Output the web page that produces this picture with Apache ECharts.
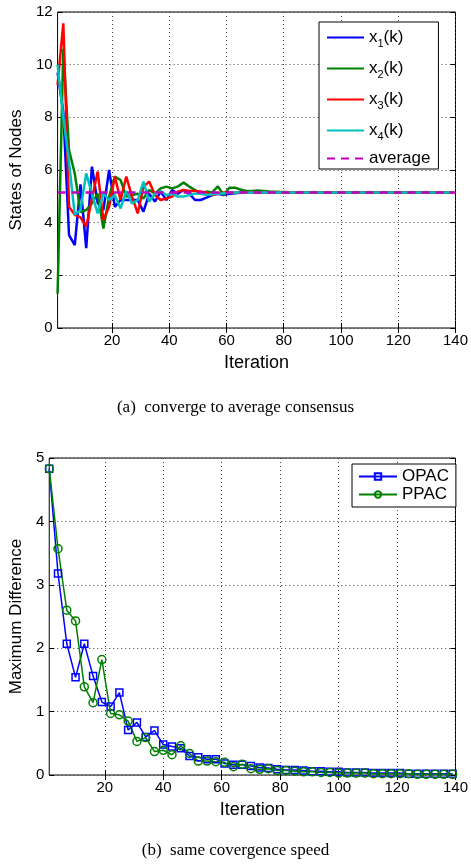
<!DOCTYPE html>
<html>
<head>
<meta charset="utf-8">
<script src="https://cdn.jsdelivr.net/npm/echarts@6/dist/echarts.min.js"></script>
<style>
  html, body { margin: 0; padding: 0; background: #fff; }
  #chart { width: 471px; height: 865px; }
</style>
</head>
<body>
<div id="chart"></div>
<script>
// (a) states of nodes, sampled every 2 iterations
const kTop = [1, 3, 5, 7, 9, 11, 13, 15, 17, 19, 21, 23, 25, 27, 29, 31, 33, 35, 37, 39,
  41, 43, 45, 47, 49, 51, 53, 55, 57, 59, 61, 63, 65, 67, 69, 71, 73, 75, 77, 79,
  81, 83, 85, 87, 89, 91, 93, 95, 97, 99, 101, 103, 105, 107, 109, 111, 113, 115, 117, 119,
  121, 123, 125, 127, 129, 131, 133, 135, 137, 139];
const x1 = [9.7, 8.2, 3.53, 3.15, 5.45, 3.03, 6.13, 4.75, 4.48, 6.0, 4.6, 4.86, 4.86, 4.86, 4.86, 4.42, 5.1, 4.8, 5.18, 4.86,
  5.24, 5.1, 5.24, 5.1, 4.86, 4.86, 4.95, 5.05, 5.1, 5.05, 5.1, 5.12, 5.14, 5.15, 5.15, 5.14, 5.15, 5.15, 5.15, 5.15,
  5.15, 5.15, 5.15, 5.15, 5.15, 5.15, 5.15, 5.15, 5.15, 5.15, 5.15, 5.15, 5.15, 5.15, 5.15, 5.15, 5.15, 5.15, 5.15, 5.15,
  5.15, 5.15, 5.15, 5.15, 5.15, 5.15, 5.15, 5.15, 5.15, 5.15];
const x2 = [1.3, 10.6, 6.76, 5.87, 4.4, 4.48, 4.73, 5.1, 3.78, 4.99, 5.75, 5.62, 4.99, 5.05, 5.1, 4.92, 5.24, 5.1, 5.3, 5.37,
  5.3, 5.37, 5.52, 5.37, 5.24, 5.1, 5.18, 5.15, 5.38, 5.05, 5.33, 5.33, 5.25, 5.2, 5.2, 5.22, 5.2, 5.18, 5.17, 5.16,
  5.16, 5.15, 5.15, 5.15, 5.15, 5.15, 5.15, 5.15, 5.15, 5.15, 5.15, 5.15, 5.15, 5.15, 5.15, 5.15, 5.15, 5.15, 5.15, 5.15,
  5.15, 5.15, 5.15, 5.15, 5.15, 5.15, 5.15, 5.15, 5.15, 5.15];
const x3 = [9.23, 11.57, 4.6, 4.3, 4.2, 3.85, 4.9, 5.94, 4.1, 4.6, 5.75, 4.86, 5.75, 4.99, 4.35, 5.37, 5.56, 5.05, 4.86, 4.92,
  4.99, 5.18, 5.24, 5.2, 5.2, 5.18, 5.15, 5.05, 5.1, 5.15, 5.15, 5.14, 5.15, 5.15, 5.15, 5.15, 5.15, 5.15, 5.15, 5.15,
  5.15, 5.15, 5.15, 5.15, 5.15, 5.15, 5.15, 5.15, 5.15, 5.15, 5.15, 5.15, 5.15, 5.15, 5.15, 5.15, 5.15, 5.15, 5.15, 5.15,
  5.15, 5.15, 5.15, 5.15, 5.15, 5.15, 5.15, 5.15, 5.15, 5.15];
const x4 = [10.0, 8.0, 6.3, 4.3, 4.48, 5.87, 5.1, 4.35, 5.1, 4.86, 5.05, 4.54, 5.2, 4.73, 4.86, 5.56, 4.8, 5.1, 5.2, 5.05,
  5.1, 4.99, 4.99, 5.05, 5.1, 5.1, 5.05, 5.08, 5.1, 5.12, 5.14, 5.15, 5.15, 5.14, 5.15, 5.15, 5.15, 5.15, 5.15, 5.15,
  5.15, 5.15, 5.15, 5.15, 5.15, 5.15, 5.15, 5.15, 5.15, 5.15, 5.15, 5.15, 5.15, 5.15, 5.15, 5.15, 5.15, 5.15, 5.15, 5.15,
  5.15, 5.15, 5.15, 5.15, 5.15, 5.15, 5.15, 5.15, 5.15, 5.15];
const avgK = [1, 140];
const avgVal = [5.15, 5.15];

// (b) maximum difference, sampled every 3 iterations
const kBot = [1, 4, 7, 10, 13, 16, 19, 22, 25, 28, 31, 34, 37, 40, 43, 46, 49, 52, 55, 58,
  61, 64, 67, 70, 73, 76, 79, 82, 85, 88, 91, 94, 97, 100, 103, 106, 109, 112, 115, 118,
  121, 124, 127, 130, 133, 136, 139];
const opac = [4.83, 3.18, 2.07, 1.54, 2.07, 1.56, 1.15, 1.08, 1.30, 0.71, 0.83, 0.60, 0.70, 0.48, 0.45, 0.42, 0.30, 0.28, 0.25, 0.25,
  0.18, 0.16, 0.16, 0.14, 0.12, 0.11, 0.09, 0.08, 0.08, 0.07, 0.06, 0.06, 0.05, 0.05, 0.04, 0.04, 0.04, 0.03, 0.03, 0.03,
  0.03, 0.02, 0.02, 0.02, 0.02, 0.02, 0.02];
const ppac = [4.83, 3.57, 2.60, 2.43, 1.39, 1.14, 1.82, 0.97, 0.95, 0.85, 0.53, 0.59, 0.37, 0.39, 0.32, 0.46, 0.34, 0.22, 0.22, 0.21,
  0.20, 0.13, 0.17, 0.10, 0.09, 0.10, 0.07, 0.07, 0.06, 0.05, 0.05, 0.04, 0.04, 0.03, 0.03, 0.03, 0.03, 0.02, 0.02, 0.02,
  0.02, 0.02, 0.01, 0.01, 0.01, 0.01, 0.01];

const xTicks = [20, 40, 60, 80, 100, 120, 140];

const font = 'Liberation Sans, Arial, sans-serif';
const zip = (xs, ys) => xs.map((x, i) => [x, ys[i]]);

function xAxisFor(grid, name) {
  return [{
    type: 'value', gridIndex: grid, min: 1, max: 140,
    name: name, nameLocation: 'middle', nameGap: 26,
    nameTextStyle: { fontFamily: font, fontSize: 18, color: '#000' },
    axisLine: { show: false },
    axisTick: { inside: true, length: 5, customValues: xTicks, lineStyle: { color: '#000' } },
    axisLabel: { customValues: xTicks, fontFamily: font, fontSize: 15, color: '#000', margin: 5 },
    splitLine: { show: true, customValues: xTicks, lineStyle: { color: '#444', type: [1, 3], width: 1 } }
  }, {
    type: 'value', gridIndex: grid, min: 1, max: 140, position: 'top',
    axisLine: { show: false },
    axisTick: { inside: true, length: 5, customValues: xTicks, lineStyle: { color: '#000' } },
    axisLabel: { show: false },
    splitLine: { show: false }
  }];
}

function yAxisFor(grid, name, max, step) {
  return [{
    type: 'value', gridIndex: grid, min: 0, max: max, interval: step,
    name: name, nameLocation: 'middle', nameGap: 24,
    nameTextStyle: { fontFamily: font, fontSize: 17, color: '#000' },
    axisLine: { show: false },
    axisTick: { inside: true, length: 5, lineStyle: { color: '#000' } },
    axisLabel: { fontFamily: font, fontSize: 15, color: '#000', margin: 5 },
    splitLine: { show: true, lineStyle: { color: '#444', type: [1, 3], width: 1 } }
  }, {
    type: 'value', gridIndex: grid, min: 0, max: max, interval: step, position: 'right',
    axisLine: { show: false },
    axisTick: { inside: true, length: 5, lineStyle: { color: '#000' } },
    axisLabel: { show: false },
    splitLine: { show: false }
  }];
}

const chart = echarts.init(document.getElementById('chart'), null, { renderer: 'canvas' });

const lineCommon = { type: 'line', showSymbol: false, symbol: 'none', animation: false, xAxisIndex: 0, yAxisIndex: 0 };

chart.setOption({
  backgroundColor: '#fff',
  animation: false,
  title: [
    { text: '(a)  converge to average consensus', left: 'center', top: 394,
      textStyle: { fontFamily: 'Liberation Serif, Times New Roman, serif', fontSize: 17, fontWeight: 'normal', color: '#000' } },
    { text: '(b)  same covergence speed', left: 'center', top: 837,
      textStyle: { fontFamily: 'Liberation Serif, Times New Roman, serif', fontSize: 17, fontWeight: 'normal', color: '#000' } }
  ],
  grid: [
    { left: 48, right: 15, top: 12, height: 316, show: true, borderColor: '#000', borderWidth: 1, backgroundColor: 'transparent' },
    { left: 48, right: 15, top: 458, height: 317, show: true, borderColor: '#000', borderWidth: 1, backgroundColor: 'transparent' }
  ],
  xAxis: [...xAxisFor(0, 'Iteration'), ...xAxisFor(1, 'Iteration')],
  yAxis: [...yAxisFor(0, 'States of Nodes', 12, 2), ...yAxisFor(1, 'Maximum Difference', 5, 1)],
  legend: [{
    data: ['x1(k)', 'x2(k)', 'x3(k)', 'x4(k)', 'average'],
    orient: 'vertical', left: 319, top: 22,
    backgroundColor: '#fff', borderColor: '#000', borderWidth: 1,
    padding: [4, 8, 2, 7], itemWidth: 37, itemHeight: 14, itemGap: 8,
    itemStyle: { opacity: 0 },
    formatter: n => n === 'average' ? '{t|average}' : '{t|x}{s|' + n.charAt(1) + '}{t|(k)}',
    textStyle: {
      fontFamily: font, fontSize: 17, color: '#000',
      rich: {
        t: { fontFamily: font, fontSize: 17, color: '#000', lineHeight: 20, verticalAlign: 'middle' },
        s: { fontFamily: font, fontSize: 11, color: '#000', lineHeight: 20, padding: [12, 0, 0, 0] }
      }
    }
  }, {
    data: ['OPAC', 'PPAC'],
    orient: 'vertical', left: 352, top: 464,
    backgroundColor: '#fff', borderColor: '#000', borderWidth: 1,
    padding: [4, 7, 4, 6], itemWidth: 38, itemHeight: 8, itemGap: 1,
    textStyle: { fontFamily: font, fontSize: 17, color: '#000' }
  }],
  series: [
    { ...lineCommon, name: 'x1(k)', data: zip(kTop, x1), lineStyle: { color: '#0000ff', width: 2.5 }, itemStyle: { color: '#0000ff' } },
    { ...lineCommon, name: 'x2(k)', data: zip(kTop, x2), lineStyle: { color: '#008000', width: 2.5 }, itemStyle: { color: '#008000' } },
    { ...lineCommon, name: 'x3(k)', data: zip(kTop, x3), lineStyle: { color: '#ff0000', width: 2.5 }, itemStyle: { color: '#ff0000' } },
    { ...lineCommon, name: 'x4(k)', data: zip(kTop, x4), lineStyle: { color: '#00bfbf', width: 2.5 }, itemStyle: { color: '#00bfbf' } },
    { ...lineCommon, name: 'average', data: zip(avgK, avgVal), lineStyle: { color: '#bf00bf', width: 2.5, type: [8, 6] }, itemStyle: { color: '#bf00bf' } },
    {
      type: 'line', name: 'OPAC', xAxisIndex: 2, yAxisIndex: 2, data: zip(kBot, opac),
      symbol: 'rect', symbolSize: 7, showSymbol: true,
      lineStyle: { color: '#0000ff', width: 1.5 },
      itemStyle: { color: 'rgba(255,255,255,0)', borderColor: '#0000ff', borderWidth: 1.5 }
    },
    {
      type: 'line', name: 'PPAC', xAxisIndex: 2, yAxisIndex: 2, data: zip(kBot, ppac),
      symbol: 'circle', symbolSize: 8, showSymbol: true,
      lineStyle: { color: '#008000', width: 1.5 },
      itemStyle: { color: 'rgba(255,255,255,0)', borderColor: '#008000', borderWidth: 1.5 }
    }
  ]
});

window.addEventListener('resize', () => chart.resize());
</script>
</body>
</html>
